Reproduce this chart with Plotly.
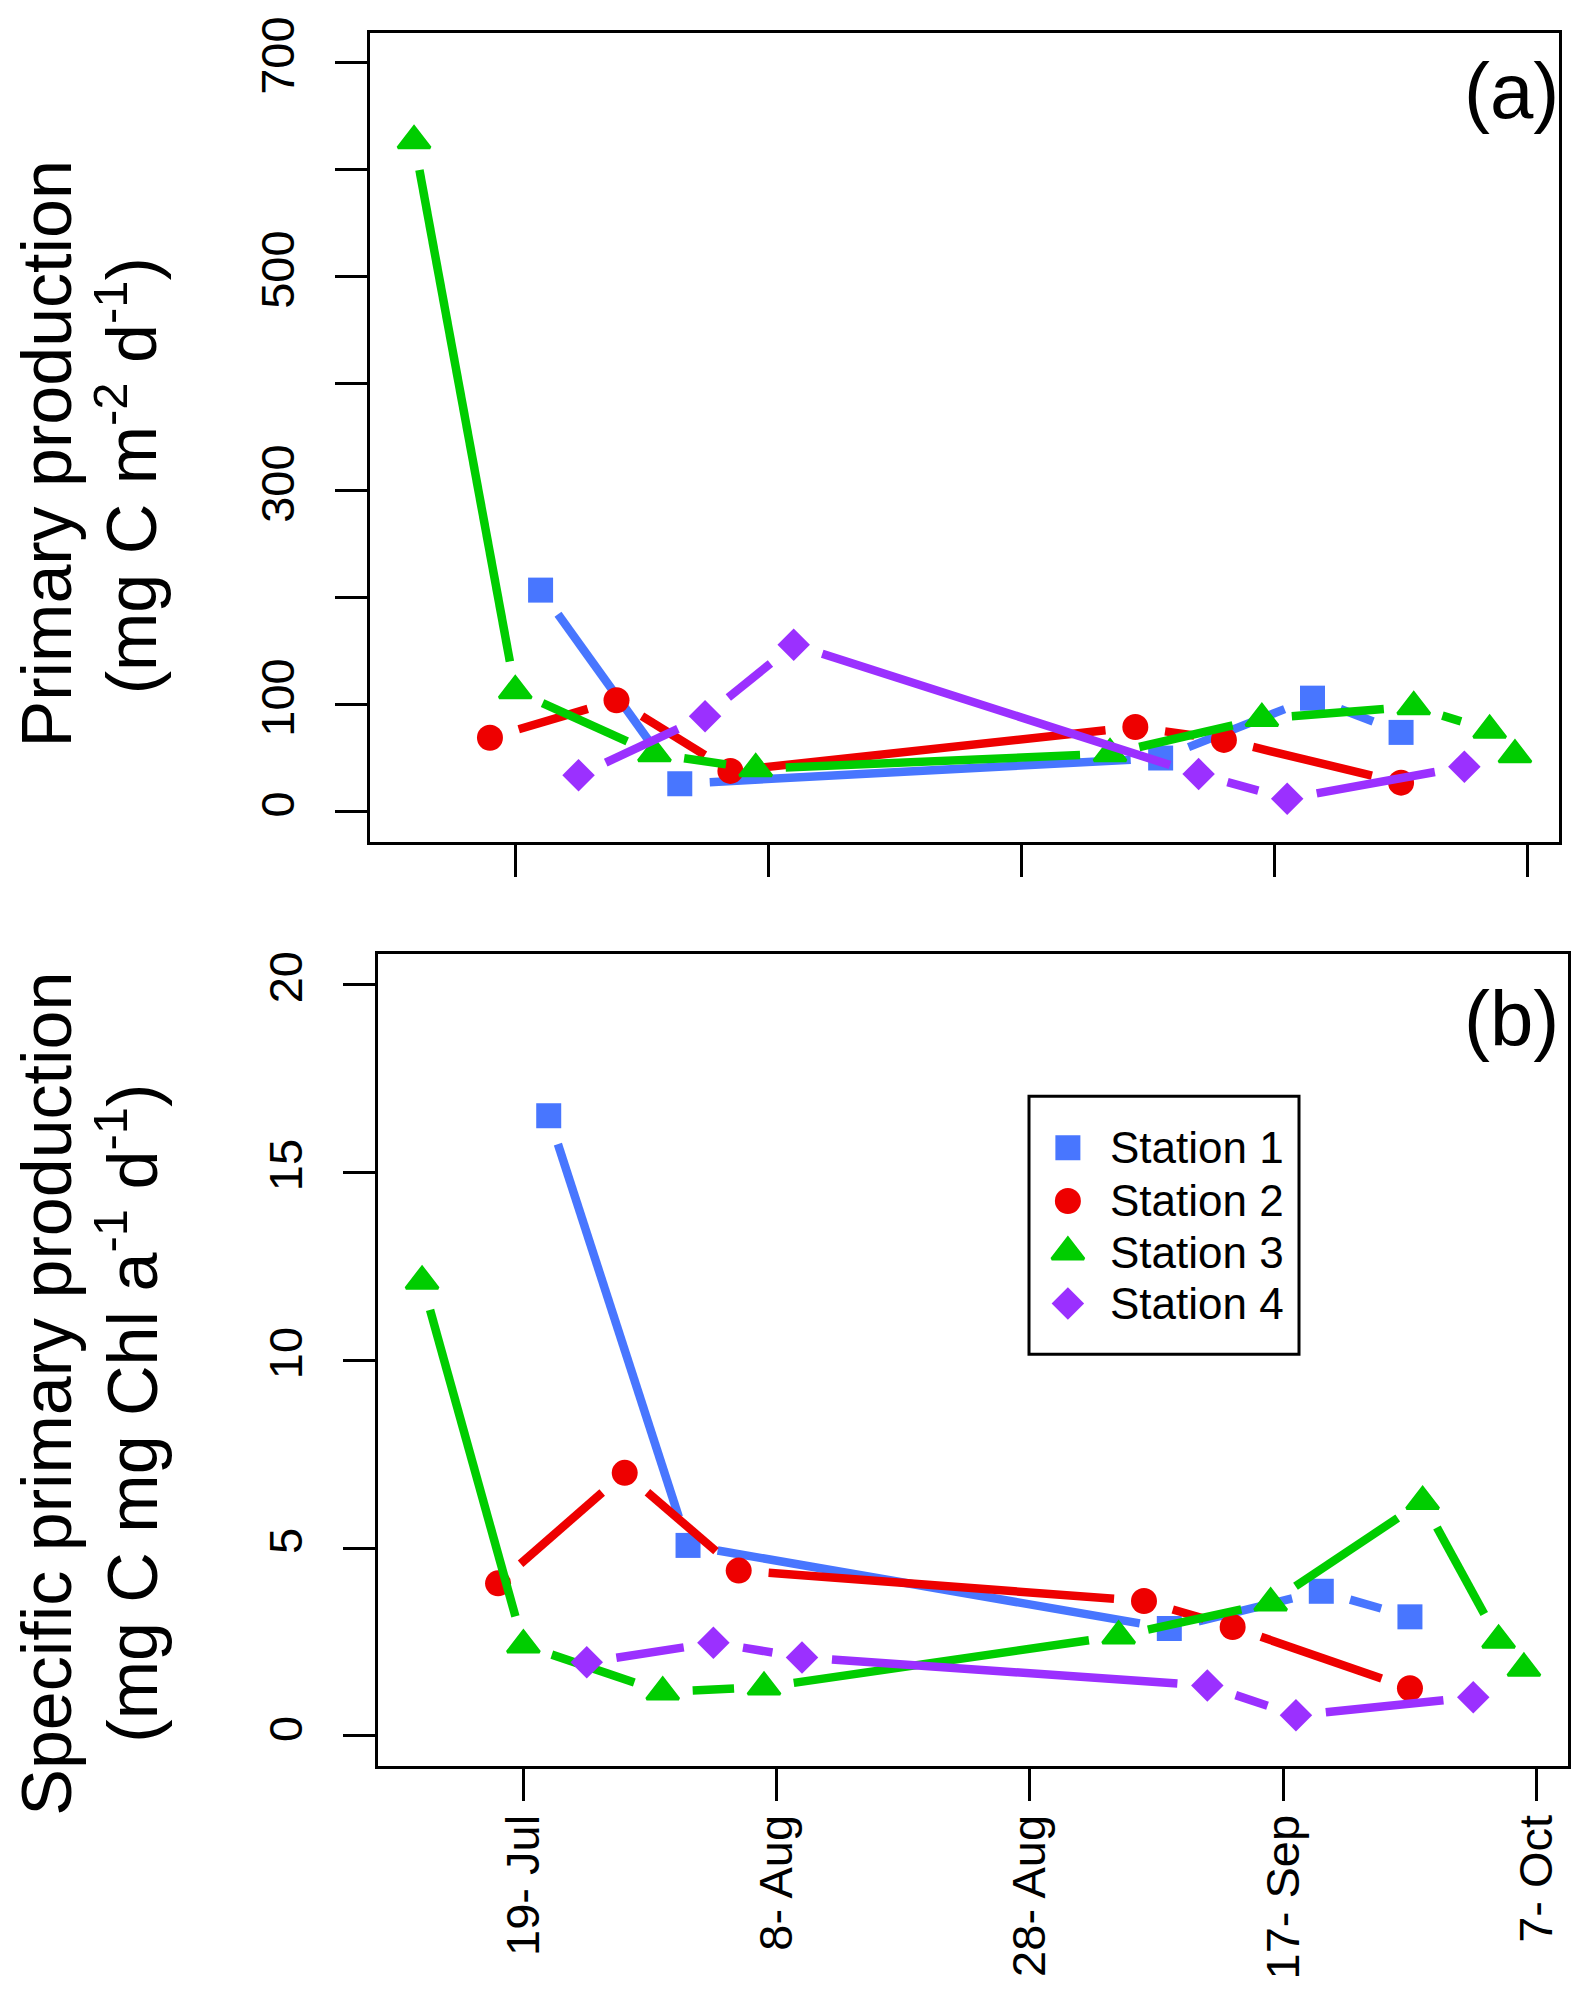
import numpy as np
import pandas as pd
import plotly.graph_objects as go

# sampling dates (same for both panels)
st1_dates = ["2013-07-21", "2013-08-01", "2013-09-08", "2013-09-20", "2013-09-27"]
st2_dates = ["2013-07-17", "2013-07-27", "2013-08-05", "2013-09-06", "2013-09-13", "2013-09-27"]
st3_dates = ["2013-07-11", "2013-07-19", "2013-07-30", "2013-08-07", "2013-09-04",
             "2013-09-16", "2013-09-28", "2013-10-04", "2013-10-06"]
st4_dates = ["2013-07-24", "2013-08-03", "2013-08-10", "2013-09-11", "2013-09-18", "2013-10-02"]

# (a) primary production, mg C m-2 d-1
st1_pp = [207, 26, 50, 106, 74]
st2_pp = [69, 104, 38, 79, 67, 27]
st3_pp = [627, 113, 54, 40, 54, 87, 98, 76, 53]
st4_pp = [34, 89, 156, 35, 12, 42]

# (b) specific primary production, mg C mg Chl a-1 d-1
st1_spp = [16.5, 5.07, 2.86, 3.85, 3.17]
st2_spp = [4.06, 7.0, 4.4, 3.59, 2.9, 1.27]
st3_spp = [12.1, 2.42, 1.17, 1.3, 2.66, 3.54, 6.24, 2.55, 1.8]
st4_spp = [1.96, 2.48, 2.09, 1.34, 0.55, 1.03]

stations = ["Station 1", "Station 2", "Station 3", "Station 4"]
tick_dates = ["2013-07-19", "2013-08-08", "2013-08-28", "2013-09-17", "2013-10-07"]
tick_labels = ["19- Jul", "8- Aug", "28- Aug", "17- Sep", "7- Oct"]

colors = ["#4876FF", "#EE0000", "#00CD00", "#9B30FF"]
symbols = ["square", "circle", "triangle-up", "diamond"]
msizes = [25, 26, 28, 25]
mlines = [0, 0, 3, 0]

# page has an 8px body margin, so the figure is shrunk to fit the window
W, H = 1583, 1994
OFF = 8
FW, FH = W - 2 * OFF, H - 2 * OFF - 4
FONT = "Liberation Sans, Arial, sans-serif"
origin = pd.Timestamp("2013-07-19")


def to_days(dates):
    return [(pd.Timestamp(d) - origin).days for d in dates]


def fx(p):
    return (p - OFF) / FW


def fy(p):
    return min(1.0, 1 - (p - OFF) / FH)


# plot boxes in window pixels: left, right, top, bottom
box_a = (370, 1559, 16.8, 832.2)
box_b = (378, 1568, 945.7, 1764.3)
x_range = [-11.48, 82.48]
ya_range = [-28, 728]
yb_range = [-0.8, 20.8]


def gapped(x, y, kx, ky, gap=30):
    # R type="b": segments stop short of the points
    xs, ys = [], []
    for i in range(len(x) - 1):
        dx = x[i + 1] - x[i]
        dy = y[i + 1] - y[i]
        L = np.hypot(dx * kx, dy * ky)
        if L <= 2 * gap:
            continue
        f = gap / L
        xs += [x[i] + f * dx, x[i + 1] - f * dx, None]
        ys += [y[i] + f * dy, y[i + 1] - f * dy, None]
    return xs, ys


fig = go.Figure()

panels = [
    ("x", "y", box_a, ya_range, [st1_pp, st2_pp, st3_pp, st4_pp]),
    ("x2", "y2", box_b, yb_range, [st1_spp, st2_spp, st3_spp, st4_spp]),
]
all_dates = [st1_dates, st2_dates, st3_dates, st4_dates]

for xa, ya, box, yr, series in panels:
    kx = (box[1] - box[0]) / (x_range[1] - x_range[0])
    ky = (box[3] - box[2]) / (yr[1] - yr[0])
    for i in range(4):
        xd = to_days(all_dates[i])
        lx, ly = gapped(xd, series[i], kx, ky)
        fig.add_trace(go.Scatter(x=lx, y=ly, mode="lines", xaxis=xa, yaxis=ya,
                                 line=dict(color=colors[i], width=8.5),
                                 showlegend=False, hoverinfo="skip"))
        fig.add_trace(go.Scatter(x=xd, y=series[i], mode="markers", xaxis=xa, yaxis=ya,
                                 name=stations[i], showlegend=False,
                                 marker=dict(symbol=symbols[i], size=msizes[i],
                                             color=colors[i], opacity=1,
                                             line=dict(width=mlines[i], color=colors[i]))))

# legend drawn by hand inside panel (b)
leg = (1029, 1299, 1089, 1349)
leg_rows = [0.80, 0.594, 0.396, 0.196]
fig.add_trace(go.Scatter(x=[0.144] * 4, y=leg_rows, mode="markers", xaxis="x3", yaxis="y3",
                         showlegend=False, hoverinfo="skip",
                         marker=dict(symbol=symbols, size=msizes, color=colors, opacity=1,
                                     line=dict(width=mlines, color=colors))))

tick_days = to_days(tick_dates)

axis_common = dict(showgrid=False, zeroline=False, showline=True, mirror=True,
                   linecolor="black", linewidth=3, ticks="outside", ticklen=32,
                   tickwidth=3, tickcolor="black",
                   tickfont=dict(family=FONT, size=47, color="black"))

fig.update_layout(
    width=FW, height=FH,
    margin=dict(l=0, r=0, t=0, b=0),
    paper_bgcolor="white", plot_bgcolor="white",
    showlegend=False,
    xaxis=dict(axis_common, domain=[fx(box_a[0]), fx(box_a[1])], range=x_range,
               anchor="y", tickvals=tick_days, showticklabels=False),
    yaxis=dict(axis_common, domain=[fy(box_a[3]), fy(box_a[2])], range=ya_range,
               anchor="x", tickvals=list(range(0, 701, 100)),
               ticktext=["0", "100", "", "300", "", "500", "", "700"],
               tickangle=-90, ticklabelstandoff=22, ticklabeloverflow="allow"),
    xaxis2=dict(axis_common, domain=[fx(box_b[0]), fx(box_b[1])], range=x_range,
                anchor="y2", tickvals=tick_days, ticktext=tick_labels,
                tickangle=-90, ticklabelstandoff=-5),
    yaxis2=dict(axis_common, domain=[fy(box_b[3]), fy(box_b[2])], range=yb_range,
                anchor="x2", tickvals=[0, 5, 10, 15, 20], tickangle=-90,
                ticklabelstandoff=22),
    xaxis3=dict(domain=[fx(leg[0]), fx(leg[1])], range=[0, 1], visible=False,
                anchor="y3"),
    yaxis3=dict(domain=[fy(leg[3]), fy(leg[2])], range=[0, 1], visible=False,
                anchor="x3"),
)

fig.add_shape(type="rect", xref="paper", yref="paper",
              x0=fx(leg[0]), x1=fx(leg[1]), y0=fy(leg[3]), y1=fy(leg[2]),
              line=dict(color="black", width=3), fillcolor="rgba(0,0,0,0)")

for name, r in zip(stations, leg_rows):
    fig.add_annotation(x=0.293, y=r, xref="x3", yref="y3", text=name, showarrow=False,
                       xanchor="left", yanchor="middle",
                       font=dict(family=FONT, size=44, color="black"))

title_font = dict(family=FONT, size=70, color="black")
titles = [
    ("Primary production", 47, 442),
    ("(mg C m<sup>-2</sup> d<sup>-1</sup>)", 127, 464),
    ("Specific primary production", 47, 1389),
    ("(mg C mg Chl a<sup>-1</sup> d<sup>-1</sup>)", 127, 1409),
]
for txt, px, py in titles:
    fig.add_annotation(x=fx(px), y=fy(py), xref="paper", yref="paper", text=txt,
                       textangle=-90, showarrow=False, xanchor="center", yanchor="middle",
                       font=title_font)

for lab, py in [("(a)", 76), ("(b)", 1011)]:
    fig.add_annotation(x=fx(1561), y=fy(py), xref="paper", yref="paper", text=lab,
                       showarrow=False, xanchor="right", yanchor="middle",
                       font=dict(family=FONT, size=78, color="black"))

fig.write_html("out.html")
